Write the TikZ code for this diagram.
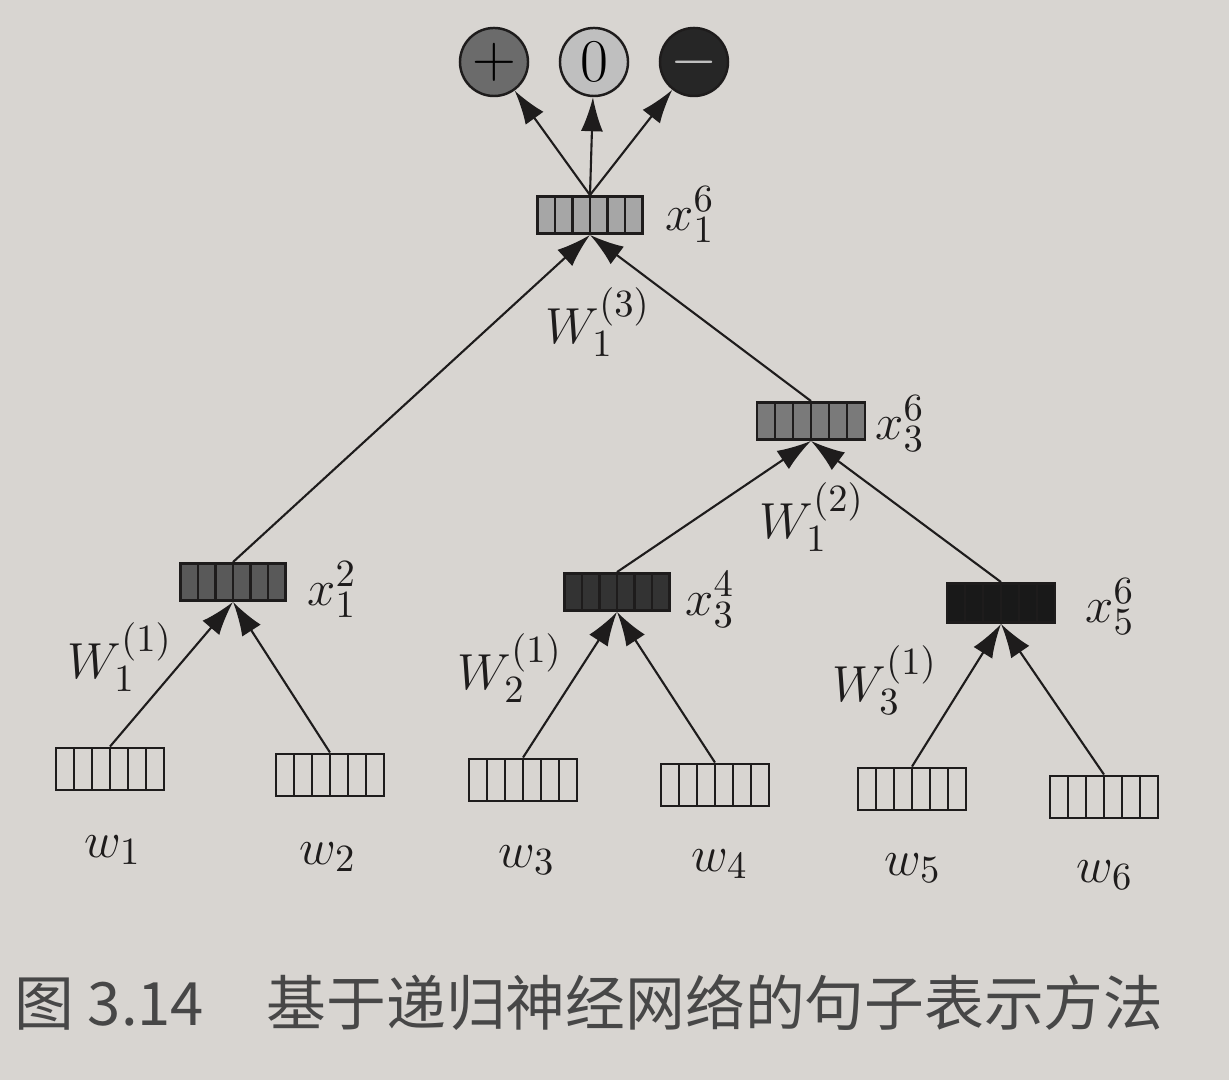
\documentclass[tikz,border=0pt]{standalone}
\usepackage{fontspec}
\newfontfamily\cjk{Noto Sans CJK SC}
\usetikzlibrary{arrows.meta,calc}
\definecolor{paper}{RGB}{216,213,209}
\definecolor{ink}{RGB}{30,28,28}
\tikzset{
  vec/.style={draw=ink, line width=0.8pt, minimum width=1.05cm, minimum height=0.37cm, inner sep=0pt,
    path picture={\foreach \i in {1,...,5}{
      \draw[ink, line width=0.7pt] ($(path picture bounding box.south west)!\i/6!(path picture bounding box.south east)$)
        -- ($(path picture bounding box.north west)!\i/6!(path picture bounding box.north east)$);}}},
  leaf/.style={vec, minimum width=1.08cm, minimum height=0.42cm},
  edge/.style={draw=ink, line width=0.6pt, -{Latex[length=3.4mm,width=2.2mm]}},
  senti/.style={circle, draw=ink, line width=0.7pt, minimum size=0.68cm, inner sep=0pt, font=\fontsize{16}{18}\selectfont},
  lab/.style={text=ink, font=\fontsize{15}{18}\selectfont}
}
\begin{document}
\begin{tikzpicture}[x=0.01cm,y=-0.01cm]
		\useasboundingbox (0,0) rectangle (1229,1080);
		\fill[paper] (0,0) rectangle (1229,1080);
		% sentiment classes
		\node[senti, fill=black!58] (pos) at (494,62) {$+$};
		\node[senti, fill=black!25] (neu) at (594,62) {$0$};
		\node[senti, fill=black!85, text=black!25] (neg) at (694,62) {$-$};
		% phrase vectors
		\node[vec, fill=black!35] (x16) at (590,215) {};
		\node[vec, fill=black!52, minimum width=1.08cm] (x36) at (811,421) {};
		\node[vec, fill=black!65] (x12) at (233,582) {};
		\node[vec, fill=black!80] (x34) at (617,592) {};
		\node[vec, fill=black!90, minimum width=1.08cm, minimum height=0.39cm] (x56) at (1001,603) {};
		% word vectors
		\node[leaf] (w1) at (110,769) {};
		\node[leaf] (w2) at (330,775) {};
		\node[leaf] (w3) at (523,780) {};
		\node[leaf] (w4) at (715,785) {};
		\node[leaf] (w5) at (912,789) {};
		\node[leaf] (w6) at (1104,797) {};
		% connectors
		\draw[edge] (x16.north) -- (pos);
		\draw[edge] (x16.north) -- (neu);
		\draw[edge] (x16.north) -- (neg);
		\draw[edge] (x12.north) -- (x16.south);
		\draw[edge] (x36.north) -- (x16.south);
		\draw[edge] (x34.north) -- (x36.south);
		\draw[edge] (x56.north) -- (x36.south);
		\draw[edge] (w1.north) -- (x12.south);
		\draw[edge] (w2.north) -- (x12.south);
		\draw[edge] (w3.north) -- (x34.south);
		\draw[edge] (w4.north) -- (x34.south);
		\draw[edge] (w5.north) -- (x56.south);
		\draw[edge] (w6.north) -- (x56.south);
		% labels
		\node[lab] (lx16) at (690,215) {$x_1^6$};
		\node[lab] (lx36) at (900,424) {$x_3^6$};
		\node[lab] (lx12) at (332,590) {$x_1^2$};
		\node[lab] (lx34) at (710,600) {$x_3^4$};
		\node[lab] (lx56) at (1110,607) {$x_5^6$};
		\node[lab] (lW3) at (598,322) {$W_1^{(3)}$};
		\node[lab] (lW2) at (812,517) {$W_1^{(2)}$};
		\node[lab] (lW11) at (120,657) {$W_1^{(1)}$};
		\node[lab] (lW21) at (510,668) {$W_2^{(1)}$};
		\node[lab] (lW31) at (885,680) {$W_3^{(1)}$};
		\node[lab] (lw1) at (113,850) {$w_1$};
		\node[lab] (lw2) at (328,857) {$w_2$};
		\node[lab] (lw3) at (527,860) {$w_3$};
		\node[lab] (lw4) at (720,864) {$w_4$};
		\node[lab] (lw5) at (913,868) {$w_5$};
		\node[lab] (lw6) at (1105,875) {$w_6$};
		% caption
		\node[anchor=west, inner sep=0pt, text=black!72, font=\cjk\fontsize{17}{20}\selectfont] (cap) at (14,1003) {图 3.14\hspace{1.05em}基于递归神经网络的句子表示方法};
	\end{tikzpicture}
\end{document}
